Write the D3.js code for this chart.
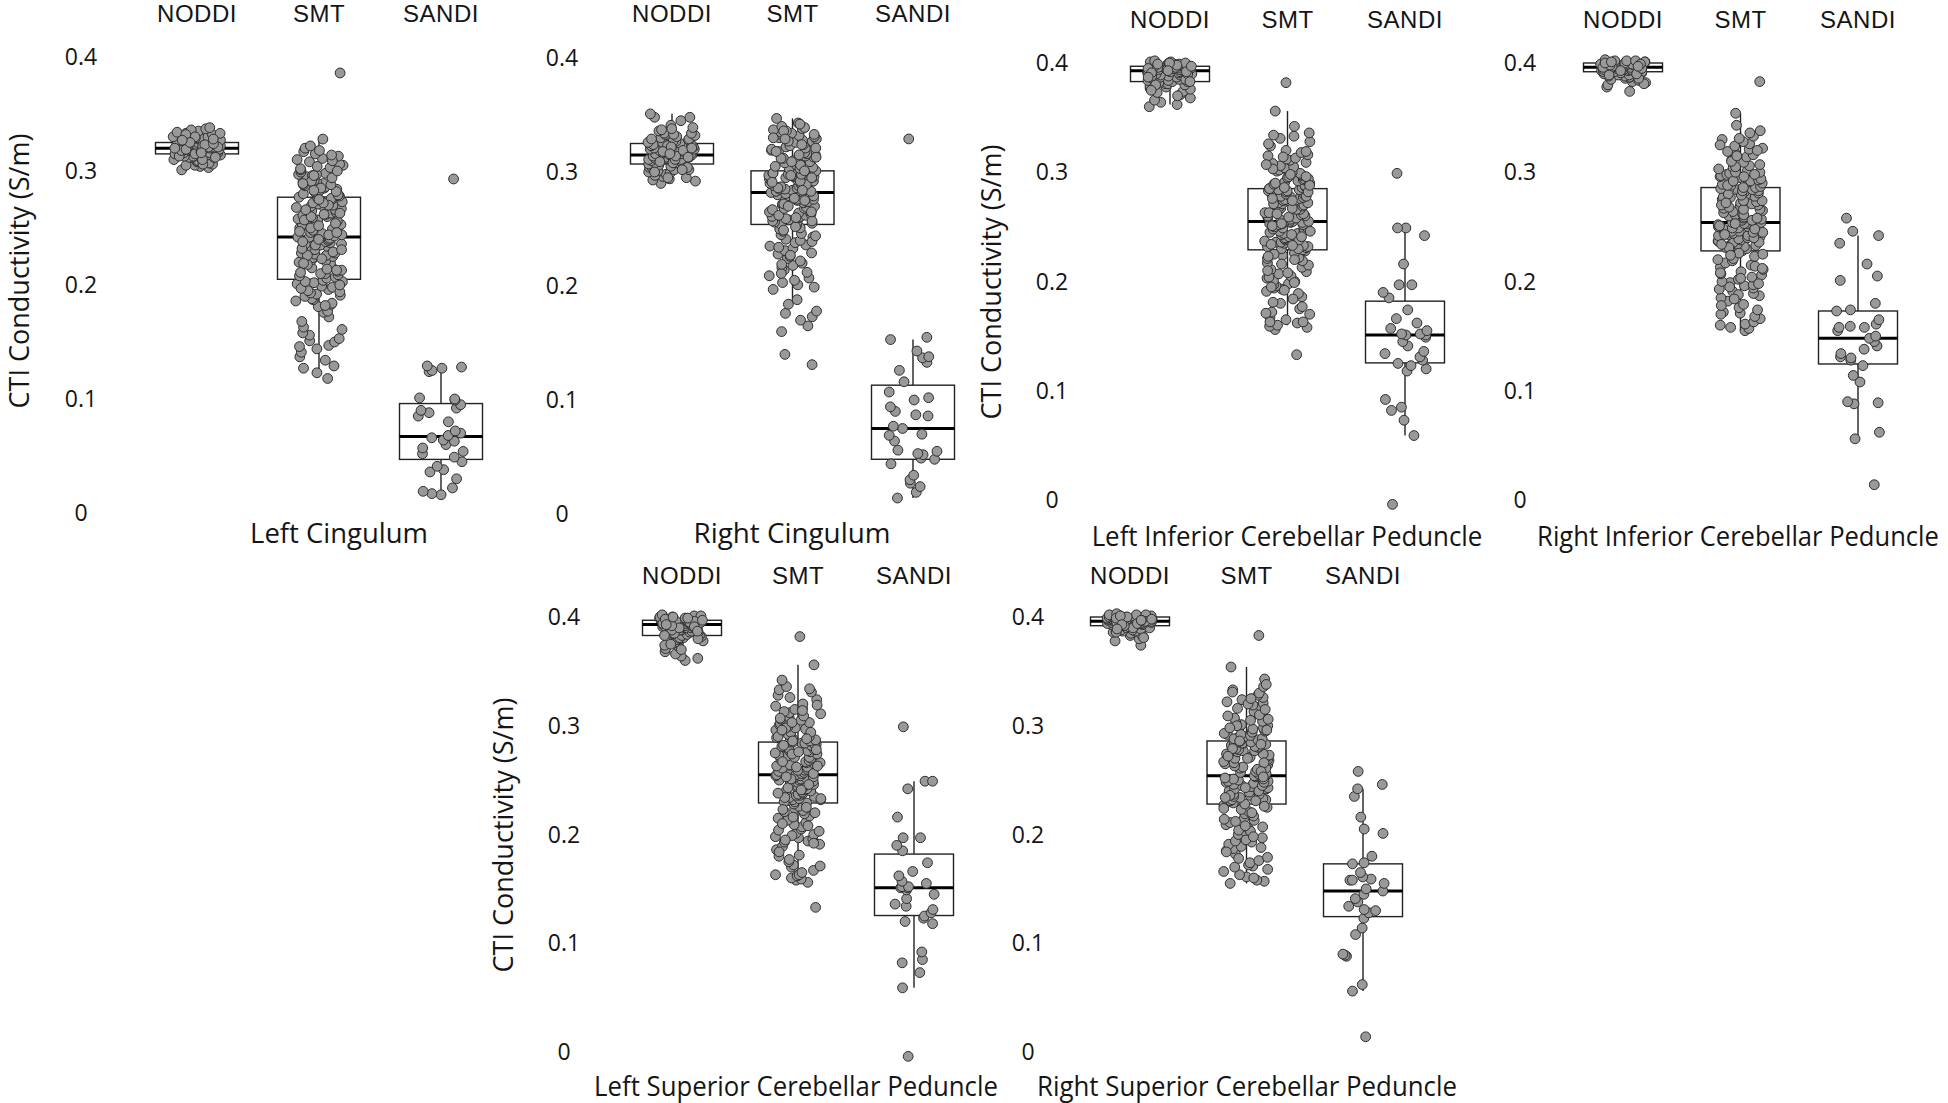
<!DOCTYPE html>
<html>
<head>
<meta charset="utf-8">
<script src="https://cdn.jsdelivr.net/npm/d3@7"></script>
<style>
  body { margin: 0; background: #fff; }
  svg { display: block; }
</style>
</head>
<body>
<svg id="chart" width="1948" height="1103"></svg>
<script>
"use strict";

// Categories and labels
var methods = ["NODDI", "SMT", "SANDI"];
var tracts = [
    "Left Cingulum",
    "Right Cingulum",
    "Left Inferior Cerebellar Peduncle",
    "Right Inferior Cerebellar Peduncle",
    "Left Superior Cerebellar Peduncle",
    "Right Superior Cerebellar Peduncle"
];
var yTicks = [0, 0.1, 0.2, 0.3, 0.4];
var yTickLabels = ["0", "0.1", "0.2", "0.3", "0.4"];
var yTitle = "CTI Conductivity (S/m)";

// Left Cingulum
var lcNoddi = [0.301, 0.303, 0.304, 0.305, 0.305, 0.306, 0.307, 0.308, 0.308, 0.309, 0.310, 0.311, 0.311, 0.312, 0.312, 0.312,
    0.313, 0.313, 0.314, 0.314, 0.314, 0.315, 0.315, 0.316, 0.316, 0.316, 0.316, 0.317, 0.317, 0.317, 0.318, 0.318, 0.318,
    0.318, 0.319, 0.319, 0.319, 0.319, 0.320, 0.320, 0.320, 0.320, 0.320, 0.321, 0.321, 0.321, 0.321, 0.322, 0.322, 0.322,
    0.322, 0.323, 0.323, 0.323, 0.323, 0.324, 0.324, 0.324, 0.324, 0.325, 0.325, 0.325, 0.326, 0.326, 0.326, 0.327, 0.327,
    0.327, 0.328, 0.328, 0.328, 0.329, 0.329, 0.330, 0.330, 0.331, 0.331, 0.332, 0.333, 0.333, 0.334, 0.335, 0.336, 0.337, 0.338,
    0.306, 0.310, 0.313, 0.315, 0.317, 0.318, 0.319, 0.321, 0.322, 0.323, 0.324, 0.326, 0.328, 0.330, 0.332, 0.316, 0.320,
    0.325, 0.312, 0.327];
var lcSmt = [0.118, 0.123, 0.127, 0.129, 0.134, 0.137, 0.141, 0.144, 0.146, 0.147, 0.150, 0.151, 0.153, 0.156, 0.158, 0.161,
    0.163, 0.168, 0.172, 0.176, 0.177, 0.181, 0.183, 0.184, 0.187, 0.188, 0.190, 0.192, 0.193, 0.195, 0.196, 0.198, 0.199,
    0.201, 0.202, 0.203, 0.204, 0.206, 0.207, 0.209, 0.210, 0.210, 0.212, 0.213, 0.215, 0.216, 0.217, 0.219, 0.220, 0.221,
    0.222, 0.224, 0.225, 0.226, 0.227, 0.228, 0.228, 0.230, 0.231, 0.232, 0.233, 0.234, 0.235, 0.236, 0.236, 0.237, 0.238,
    0.239, 0.239, 0.240, 0.241, 0.241, 0.242, 0.242, 0.243, 0.244, 0.245, 0.246, 0.247, 0.248, 0.249, 0.250, 0.251, 0.252,
    0.253, 0.253, 0.255, 0.256, 0.257, 0.258, 0.259, 0.260, 0.261, 0.262, 0.263, 0.264, 0.265, 0.266, 0.267, 0.268, 0.269,
    0.270, 0.271, 0.272, 0.273, 0.273, 0.274, 0.275, 0.276, 0.276, 0.277, 0.278, 0.279, 0.280, 0.281, 0.282, 0.283, 0.284,
    0.285, 0.286, 0.287, 0.288, 0.289, 0.290, 0.291, 0.292, 0.293, 0.294, 0.295, 0.296, 0.297, 0.298, 0.299, 0.301, 0.302,
    0.303, 0.305, 0.306, 0.308, 0.310, 0.311, 0.313, 0.315, 0.317, 0.318, 0.320, 0.322, 0.328, 0.386,
    0.182, 0.186, 0.191, 0.194, 0.197, 0.200, 0.203, 0.208, 0.211, 0.214, 0.218, 0.223, 0.226, 0.229, 0.232, 0.235, 0.238,
    0.240, 0.244, 0.247, 0.250, 0.254, 0.257, 0.260, 0.263, 0.266, 0.270, 0.272, 0.275, 0.279, 0.282, 0.285, 0.288, 0.291,
    0.294, 0.297, 0.300, 0.304, 0.309, 0.314, 0.219, 0.231, 0.246, 0.262, 0.283, 0.296, 0.213, 0.252, 0.268, 0.289];
var lcSandi = [0.016, 0.017, 0.019, 0.022, 0.030, 0.036, 0.038, 0.041, 0.045, 0.049, 0.052, 0.054, 0.057, 0.060, 0.063,
    0.064, 0.066, 0.068, 0.070, 0.072, 0.080, 0.085, 0.088, 0.090, 0.092, 0.095, 0.099, 0.100, 0.101, 0.124, 0.125, 0.127,
    0.128, 0.129, 0.293];

// Right Cingulum
var rcNoddi = [0.290, 0.292, 0.293, 0.294, 0.295, 0.296, 0.296, 0.297, 0.298, 0.299, 0.300, 0.301, 0.302, 0.302, 0.303,
    0.304, 0.304, 0.305, 0.305, 0.306, 0.306, 0.307, 0.307, 0.308, 0.308, 0.309, 0.309, 0.310, 0.310, 0.311, 0.311, 0.311,
    0.312, 0.312, 0.313, 0.313, 0.314, 0.314, 0.315, 0.315, 0.316, 0.316, 0.316, 0.317, 0.317, 0.318, 0.318, 0.319, 0.319,
    0.320, 0.320, 0.320, 0.321, 0.322, 0.322, 0.323, 0.323, 0.324, 0.324, 0.325, 0.325, 0.326, 0.327, 0.327, 0.328, 0.329,
    0.330, 0.331, 0.332, 0.333, 0.334, 0.334, 0.336, 0.337, 0.339, 0.341, 0.345, 0.348, 0.348, 0.351,
    0.295, 0.300, 0.304, 0.308, 0.311, 0.314, 0.317, 0.319, 0.321, 0.323, 0.326, 0.329, 0.333, 0.338, 0.309, 0.318, 0.322,
    0.313, 0.302, 0.316];
var rcSmt = [0.131, 0.140, 0.160, 0.165, 0.170, 0.173, 0.176, 0.178, 0.184, 0.188, 0.197, 0.199, 0.201, 0.205, 0.207,
    0.209, 0.212, 0.214, 0.216, 0.218, 0.220, 0.222, 0.224, 0.226, 0.228, 0.229, 0.231, 0.233, 0.235, 0.236, 0.238, 0.240,
    0.241, 0.243, 0.245, 0.246, 0.248, 0.250, 0.251, 0.253, 0.254, 0.255, 0.256, 0.256, 0.257, 0.258, 0.259, 0.260, 0.261,
    0.261, 0.262, 0.263, 0.264, 0.265, 0.266, 0.266, 0.267, 0.268, 0.269, 0.270, 0.271, 0.271, 0.272, 0.273, 0.274, 0.274,
    0.275, 0.276, 0.276, 0.277, 0.278, 0.278, 0.279, 0.279, 0.280, 0.280, 0.281, 0.281, 0.282, 0.282, 0.283, 0.283, 0.284,
    0.284, 0.285, 0.285, 0.286, 0.286, 0.287, 0.287, 0.288, 0.288, 0.289, 0.289, 0.290, 0.290, 0.291, 0.291, 0.292, 0.292,
    0.293, 0.293, 0.294, 0.294, 0.295, 0.295, 0.296, 0.296, 0.297, 0.297, 0.298, 0.298, 0.299, 0.299, 0.300, 0.300, 0.301,
    0.301, 0.302, 0.303, 0.304, 0.305, 0.306, 0.307, 0.308, 0.309, 0.310, 0.311, 0.312, 0.313, 0.314, 0.315, 0.316, 0.317,
    0.318, 0.319, 0.320, 0.321, 0.322, 0.323, 0.324, 0.325, 0.326, 0.327, 0.328, 0.329, 0.330, 0.331, 0.332, 0.333, 0.334,
    0.335, 0.336, 0.337, 0.338, 0.340, 0.343, 0.347,
    0.203, 0.211, 0.219, 0.227, 0.234, 0.239, 0.244, 0.249, 0.252, 0.257, 0.262, 0.265, 0.268, 0.272, 0.275, 0.279, 0.283,
    0.286, 0.289, 0.292, 0.295, 0.298, 0.303, 0.306, 0.309, 0.312, 0.315, 0.318, 0.321, 0.324, 0.327, 0.330, 0.333, 0.336,
    0.339, 0.342, 0.260, 0.277, 0.291, 0.301, 0.313, 0.329, 0.297, 0.284, 0.270];
var rcSandi = [0.014, 0.019, 0.024, 0.027, 0.030, 0.034, 0.044, 0.048, 0.049, 0.052, 0.053, 0.055, 0.056, 0.064, 0.069,
    0.070, 0.075, 0.077, 0.086, 0.087, 0.090, 0.094, 0.100, 0.102, 0.107, 0.116, 0.126, 0.133, 0.137, 0.138, 0.143, 0.153,
    0.155, 0.329];

// Left Inferior Cerebellar Peduncle
var licpNoddi = [0.360, 0.362, 0.364, 0.366, 0.368, 0.371, 0.373, 0.374, 0.376, 0.377, 0.378, 0.379, 0.380, 0.381, 0.381,
    0.382, 0.383, 0.383, 0.384, 0.384, 0.385, 0.385, 0.386, 0.386, 0.387, 0.387, 0.388, 0.388, 0.389, 0.389, 0.390, 0.390,
    0.390, 0.391, 0.391, 0.391, 0.392, 0.392, 0.392, 0.393, 0.393, 0.393, 0.393, 0.394, 0.394, 0.394, 0.394, 0.395, 0.395,
    0.395, 0.395, 0.396, 0.396, 0.396, 0.396, 0.397, 0.397, 0.397, 0.397, 0.398, 0.398, 0.398, 0.399, 0.399, 0.399, 0.400,
    0.400, 0.401, 0.401, 0.402,
    0.370, 0.380, 0.385, 0.388, 0.390, 0.392, 0.394, 0.395, 0.396, 0.398, 0.399, 0.400, 0.391, 0.393, 0.397, 0.387, 0.383,
    0.375];
var licpSmt = [0.133, 0.156, 0.158, 0.159, 0.160, 0.162, 0.163, 0.165, 0.167, 0.170, 0.172, 0.175, 0.177, 0.180, 0.186,
    0.189, 0.191, 0.193, 0.194, 0.196, 0.197, 0.198, 0.200, 0.201, 0.203, 0.205, 0.207, 0.209, 0.211, 0.213, 0.215, 0.217,
    0.219, 0.221, 0.222, 0.224, 0.226, 0.228, 0.229, 0.230, 0.231, 0.232, 0.232, 0.233, 0.234, 0.235, 0.236, 0.236, 0.237,
    0.238, 0.239, 0.240, 0.240, 0.241, 0.242, 0.243, 0.244, 0.244, 0.245, 0.246, 0.247, 0.247, 0.248, 0.249, 0.250, 0.250,
    0.251, 0.252, 0.252, 0.253, 0.253, 0.254, 0.254, 0.255, 0.255, 0.255, 0.256, 0.257, 0.258, 0.259, 0.260, 0.260, 0.261,
    0.262, 0.263, 0.264, 0.265, 0.266, 0.266, 0.267, 0.268, 0.269, 0.270, 0.271, 0.272, 0.272, 0.273, 0.274, 0.275, 0.276,
    0.277, 0.277, 0.278, 0.279, 0.280, 0.280, 0.281, 0.282, 0.283, 0.283, 0.284, 0.284, 0.285, 0.285, 0.286, 0.287, 0.288,
    0.289, 0.290, 0.291, 0.292, 0.293, 0.294, 0.295, 0.296, 0.297, 0.298, 0.299, 0.300, 0.301, 0.302, 0.303, 0.304, 0.305,
    0.306, 0.308, 0.309, 0.311, 0.312, 0.313, 0.315, 0.316, 0.318, 0.320, 0.324, 0.328, 0.331, 0.333, 0.336, 0.342, 0.356,
    0.382,
    0.163, 0.171, 0.184, 0.192, 0.199, 0.204, 0.210, 0.216, 0.220, 0.225, 0.230, 0.234, 0.238, 0.243, 0.246, 0.251, 0.256,
    0.259, 0.263, 0.267, 0.271, 0.274, 0.278, 0.282, 0.286, 0.290, 0.294, 0.298, 0.303, 0.307, 0.314, 0.319, 0.326, 0.334,
    0.241, 0.262, 0.276, 0.233, 0.253, 0.288, 0.296, 0.223, 0.208, 0.195, 0.181];
var licpSandi = [-0.004, 0.059, 0.073, 0.082, 0.085, 0.092, 0.118, 0.120, 0.123, 0.125, 0.128, 0.131, 0.134, 0.136, 0.141,
    0.145, 0.149, 0.151, 0.151, 0.152, 0.152, 0.155, 0.157, 0.162, 0.166, 0.174, 0.185, 0.190, 0.197, 0.197, 0.216, 0.242,
    0.249, 0.249, 0.299];

// Right Inferior Cerebellar Peduncle
var ricpNoddi = [0.374, 0.378, 0.380, 0.382, 0.383, 0.384, 0.385, 0.386, 0.387, 0.387, 0.388, 0.388, 0.389, 0.389, 0.390,
    0.390, 0.391, 0.391, 0.392, 0.392, 0.392, 0.393, 0.393, 0.393, 0.394, 0.394, 0.394, 0.394, 0.395, 0.395, 0.395, 0.395,
    0.396, 0.396, 0.396, 0.396, 0.396, 0.397, 0.397, 0.397, 0.397, 0.398, 0.398, 0.398, 0.398, 0.398, 0.399, 0.399, 0.399,
    0.399, 0.399, 0.400, 0.400, 0.400, 0.400, 0.400, 0.401, 0.401, 0.401, 0.402, 0.402, 0.402, 0.403,
    0.381, 0.386, 0.390, 0.392, 0.394, 0.395, 0.396, 0.397, 0.398, 0.399, 0.400, 0.401, 0.393, 0.397, 0.389];
var ricpSmt = [0.155, 0.157, 0.158, 0.161, 0.163, 0.166, 0.168, 0.171, 0.172, 0.174, 0.176, 0.179, 0.182, 0.185, 0.187,
    0.189, 0.191, 0.193, 0.194, 0.196, 0.197, 0.199, 0.200, 0.202, 0.204, 0.206, 0.207, 0.209, 0.211, 0.213, 0.215, 0.217,
    0.219, 0.221, 0.223, 0.225, 0.227, 0.228, 0.229, 0.230, 0.231, 0.232, 0.232, 0.233, 0.234, 0.235, 0.236, 0.237, 0.237,
    0.238, 0.239, 0.240, 0.241, 0.242, 0.242, 0.243, 0.244, 0.245, 0.246, 0.246, 0.247, 0.248, 0.249, 0.249, 0.250, 0.250,
    0.251, 0.252, 0.252, 0.253, 0.253, 0.254, 0.254, 0.254, 0.255, 0.256, 0.257, 0.258, 0.259, 0.260, 0.261, 0.262, 0.263,
    0.264, 0.265, 0.266, 0.267, 0.268, 0.269, 0.270, 0.271, 0.272, 0.273, 0.274, 0.275, 0.276, 0.277, 0.277, 0.278, 0.279,
    0.280, 0.281, 0.281, 0.282, 0.283, 0.283, 0.284, 0.284, 0.285, 0.285, 0.286, 0.287, 0.288, 0.289, 0.290, 0.291, 0.292,
    0.293, 0.294, 0.295, 0.296, 0.297, 0.298, 0.299, 0.300, 0.301, 0.303, 0.304, 0.306, 0.307, 0.309, 0.311, 0.313, 0.314,
    0.316, 0.318, 0.319, 0.321, 0.322, 0.324, 0.326, 0.328, 0.330, 0.333, 0.336, 0.343, 0.354, 0.383,
    0.160, 0.170, 0.178, 0.188, 0.195, 0.203, 0.208, 0.214, 0.220, 0.226, 0.231, 0.236, 0.240, 0.245, 0.248, 0.251, 0.256,
    0.261, 0.266, 0.270, 0.274, 0.279, 0.283, 0.288, 0.292, 0.296, 0.300, 0.305, 0.310, 0.315, 0.320, 0.325, 0.331, 0.338,
    0.243, 0.258, 0.272, 0.234, 0.253, 0.286, 0.298, 0.224, 0.212, 0.198, 0.184];
var ricpSandi = [0.014, 0.056, 0.062, 0.088, 0.089, 0.090, 0.108, 0.114, 0.123, 0.128, 0.130, 0.131, 0.134, 0.138, 0.141,
    0.145, 0.148, 0.150, 0.155, 0.158, 0.158, 0.159, 0.161, 0.165, 0.173, 0.174, 0.180, 0.201, 0.205, 0.216, 0.235, 0.242,
    0.246, 0.258];

// Box summaries: [lower whisker, Q1, median, Q3, upper whisker], one per method
var lcBox = [[0.301, 0.315, 0.320, 0.325, 0.338], [0.119, 0.205, 0.242, 0.277, 0.327], [0.016, 0.047, 0.067, 0.096, 0.128]];
var rcBox = [[0.290, 0.307, 0.315, 0.325, 0.351], [0.184, 0.254, 0.282, 0.301, 0.347], [0.014, 0.048, 0.075, 0.113, 0.153]];
var licpBox = [[0.362, 0.383, 0.393, 0.397, 0.401], [0.160, 0.229, 0.255, 0.285, 0.356], [0.059, 0.1255, 0.151, 0.182, 0.249]];
var ricpBox = [[0.384, 0.392, 0.396, 0.400, 0.403], [0.155, 0.228, 0.254, 0.286, 0.354], [0.056, 0.1245, 0.148, 0.173, 0.242]];

// The two superior peduncle panels repeat the inferior ones in the figure
var panels = [
    { title: tracts[0], values: [lcNoddi, lcSmt, lcSandi], box: lcBox, xs: [197, 441], boxW: 83, tickX: 81,
      yTop: 57, yZero: 513, headY: 14, titleX: 339, titleY: 533, titleW: 178, yLab: [18, 271] },
    { title: tracts[1], values: [rcNoddi, rcSmt, rcSandi], box: rcBox, xs: [672, 913], boxW: 83, tickX: 562,
      yTop: 58, yZero: 514, headY: 14, titleX: 792, titleY: 533, titleW: 197, yLab: null },
    { title: tracts[2], values: [licpNoddi, licpSmt, licpSandi], box: licpBox, xs: [1170, 1405], boxW: 79, tickX: 1052,
      yTop: 63, yZero: 500, headY: 20, titleX: 1287, titleY: 536, titleW: 391, yLab: [990, 282] },
    { title: tracts[3], values: [ricpNoddi, ricpSmt, ricpSandi], box: ricpBox, xs: [1623, 1858], boxW: 79, tickX: 1520,
      yTop: 63, yZero: 500, headY: 20, titleX: 1738, titleY: 536, titleW: 402, yLab: null },
    { title: tracts[4], values: [licpNoddi, licpSmt, licpSandi], box: licpBox, xs: [682, 914], boxW: 79, tickX: 564,
      yTop: 617, yZero: 1052, headY: 576, titleX: 796, titleY: 1086, titleW: 404, yLab: [502, 835] },
    { title: tracts[5], values: [ricpNoddi, ricpSmt, ricpSandi], box: ricpBox, xs: [1130, 1363], boxW: 79, tickX: 1028,
      yTop: 617, yZero: 1052, headY: 576, titleX: 1247, titleY: 1086, titleW: 420, yLab: null }
];

var textColor = "#151515";
var labelFont = "'Open Sans', 'Noto Sans', sans-serif";
var headFont = "'Liberation Sans', Arial, sans-serif";

// stable jitter, like geom_jitter with a fixed seed
function jitter(seed) {
    var v = Math.sin(seed * 12.9898 + 78.233) * 43758.5453;
    return v - Math.floor(v);
}

var svg = d3.select("#chart");

panels.forEach(function (p, pi) {
    var g = svg.append("g");

    var x = d3.scalePoint().domain(methods).range(p.xs);
    var y = d3.scaleLinear().domain([0, 0.4]).range([p.yZero, p.yTop]);

    // method names on top
    g.selectAll("text.head")
        .data(methods)
        .enter()
        .append("text")
        .attr("class", "head")
        .attr("x", function (d) { return x(d); })
        .attr("y", p.headY + 8)
        .attr("text-anchor", "middle")
        .style("font-family", headFont)
        .style("font-size", "24px")
        .style("letter-spacing", "0.5px")
        .style("fill", textColor)
        .text(function (d) { return d; });

    // tick labels (no axis line in the figure)
    g.selectAll("text.tick")
        .data(yTicks)
        .enter()
        .append("text")
        .attr("class", "tick")
        .attr("x", p.tickX)
        .attr("y", function (d) { return y(d) + 8; })
        .attr("text-anchor", "middle")
        .style("font-family", labelFont)
        .style("font-size", "23px")
        .style("fill", textColor)
        .text(function (d, i) { return yTickLabels[i]; });

    // panel title, squeezed horizontally to the figure's narrower face
    var tg = g.append("g");
    var tt = tg.append("text")
        .attr("x", 0)
        .attr("y", 0)
        .attr("text-anchor", "middle")
        .style("font-family", labelFont)
        .style("font-size", "28px")
        .style("fill", textColor)
        .text(p.title);
    var natural = tt.node().getComputedTextLength();
    var k = natural > 0 ? p.titleW / natural : 1;
    tg.attr("transform", "translate(" + p.titleX + "," + (p.titleY + 10) + ") scale(" + k + ",1)");

    if (p.yLab) {
        g.append("text")
            .attr("transform", "translate(" + (p.yLab[0] + 11) + "," + p.yLab[1] + ") rotate(-90)")
            .attr("text-anchor", "middle")
            .style("font-family", labelFont)
            .style("font-size", "27px")
            .style("fill", textColor)
            .text(yTitle);
    }

    // boxes
    methods.forEach(function (m, mi) {
        var b = p.box[mi];
        var cx = x(m);
        var bg = g.append("g");

        bg.append("line")
            .attr("x1", cx).attr("x2", cx)
            .attr("y1", y(b[3])).attr("y2", y(b[4]))
            .style("stroke", "#222").style("stroke-width", 1.4);
        bg.append("line")
            .attr("x1", cx).attr("x2", cx)
            .attr("y1", y(b[1])).attr("y2", y(b[0]))
            .style("stroke", "#222").style("stroke-width", 1.4);
        bg.append("rect")
            .attr("x", cx - p.boxW / 2)
            .attr("y", y(b[3]))
            .attr("width", p.boxW)
            .attr("height", y(b[1]) - y(b[3]))
            .style("fill", "#fff")
            .style("stroke", "#222")
            .style("stroke-width", 1.4);
        bg.append("line")
            .attr("x1", cx - p.boxW / 2).attr("x2", cx + p.boxW / 2)
            .attr("y1", y(b[2])).attr("y2", y(b[2]))
            .style("stroke", "#000").style("stroke-width", 3);
    });

    // jittered points
    methods.forEach(function (m, mi) {
        var cx = x(m);
        var jw = p.boxW * 0.29;
        g.append("g")
            .selectAll("circle")
            .data(p.values[mi])
            .enter()
            .append("circle")
            .attr("cx", function (d, i) { return cx + (jitter(pi * 1000 + mi * 331 + i) * 2 - 1) * jw; })
            .attr("cy", function (d) { return y(d); })
            .attr("r", 4.9)
            .style("fill", "#999")
            .style("stroke", "#2e2e2e")
            .style("stroke-width", 1);
    });
});
</script>
</body>
</html>
